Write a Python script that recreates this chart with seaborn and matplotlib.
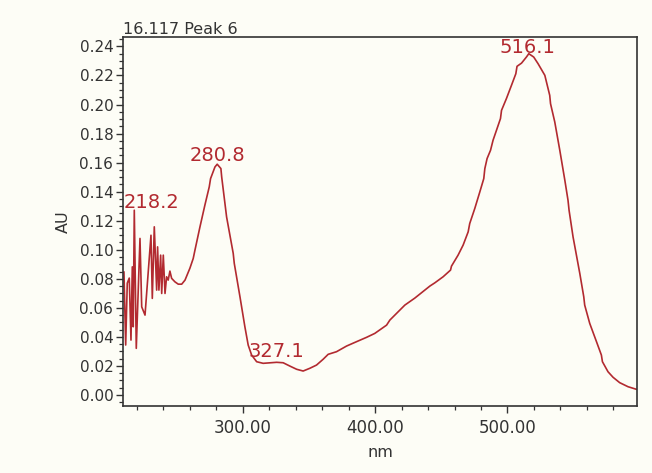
import matplotlib
matplotlib.use("Agg")
import matplotlib.pyplot as plt
import seaborn as sns
import pandas as pd
from matplotlib.ticker import MultipleLocator, FormatStrFormatter

# Absorbance spectrum of peak 6 (retention 16.117 min)
wavelength_nm = [
    210.4, 211.7, 212.9, 214.4, 215.7, 216.7, 217.4, 218.2, 219.7, 222.5,
    223.8, 226.3, 230.8, 231.8, 233.3, 235.1, 235.8, 236.8, 238.1, 238.9,
    240.1, 241.4, 242.6, 243.8, 245.1, 246.4, 248.9, 251.4, 254.0, 256.5,
    260.2, 262.7, 264.0, 267.8, 271.5, 274.8, 275.8, 279.1, 280.8, 283.6,
    284.2, 287.9, 292.9, 293.7, 298.0, 301.7, 304.2, 306.8, 310.6, 315.5,
    325.7, 330.6, 335.7, 340.8, 345.7, 350.8, 355.8, 360.8, 364.6, 370.9,
    378.5, 386.0, 393.6, 399.8, 408.7, 411.2, 422.5, 430.0, 441.4, 445.1,
    451.4, 457.0, 457.7, 462.7, 466.5, 470.3, 471.5, 475.3, 479.1, 482.1,
    482.9, 484.6, 487.2, 489.1, 491.7, 494.7, 495.5, 499.2, 503.0, 506.3,
    507.2, 510.6, 514.3, 516.1, 519.8, 523.1, 528.2, 531.9, 532.5, 535.7,
    539.5, 543.3, 545.7, 546.5, 549.5, 554.6, 557.6, 558.3, 562.1, 567.2,
    570.9, 571.7, 575.9, 579.7, 584.7, 591.0, 597.4,
]
absorbance_au = [
    0.0848, 0.0344, 0.0770, 0.0805, 0.0378, 0.0882, 0.0470, 0.1272, 0.0321, 0.1078,
    0.0607, 0.0550, 0.1100, 0.0665, 0.1158, 0.0722, 0.1020, 0.0722, 0.0963, 0.0699,
    0.0963, 0.0699, 0.0814, 0.0791, 0.0853, 0.0803, 0.0779, 0.0763, 0.0763, 0.0791,
    0.0873, 0.0940, 0.0997, 0.1158, 0.1307, 0.1433, 0.1490, 0.1570, 0.1589, 0.1559,
    0.1501, 0.1226, 0.0975, 0.0906, 0.0676, 0.0470, 0.0344, 0.0275, 0.0229, 0.0218,
    0.0225, 0.0222, 0.0199, 0.0177, 0.0165, 0.0184, 0.0206, 0.0246, 0.0280, 0.0298,
    0.0337, 0.0367, 0.0397, 0.0424, 0.0481, 0.0516, 0.0619, 0.0667, 0.0750, 0.0772,
    0.0814, 0.0860, 0.0887, 0.0963, 0.1032, 0.1123, 0.1181, 0.1284, 0.1398, 0.1490,
    0.1559, 0.1628, 0.1685, 0.1754, 0.1823, 0.1903, 0.1960, 0.2041, 0.2132, 0.2212,
    0.2263, 0.2285, 0.2327, 0.2350, 0.2327, 0.2281, 0.2201, 0.2063, 0.2006, 0.1880,
    0.1685, 0.1479, 0.1341, 0.1272, 0.1089, 0.0837, 0.0676, 0.0619, 0.0493, 0.0367,
    0.0275, 0.0229, 0.0160, 0.0122, 0.0085, 0.0057, 0.0039,
]

# Labelled extrema: text, label x (nm), label baseline (AU), alignment
peak_labels = ["218.2", "280.8", "327.1", "516.1"]
peak_label_x = [210.0, 281.0, 325.5, 515.3]
peak_label_y = [0.1285, 0.1610, 0.0260, 0.2355]
peak_label_ha = ["left", "center", "center", "center"]

x_ticks = [300, 400, 500]
y_ticks = [0.00, 0.02, 0.04, 0.06, 0.08, 0.10, 0.12, 0.14, 0.16, 0.18, 0.20, 0.22, 0.24]

bg = "#FDFDF6"
line_color = "#B22A30"
text_dark = "#333333"

sns.set_theme(style="ticks")
plt.rcParams["font.family"] = ["DejaVu Sans"]

fig = plt.figure(figsize=(6.52, 4.73), dpi=100, facecolor=bg)
ax = fig.add_axes([0.1887, 0.1416, 0.7883, 0.7802], facecolor=bg)

df = pd.DataFrame({"nm": wavelength_nm, "AU": absorbance_au})
sns.lineplot(data=df, x="nm", y="AU", ax=ax, color=line_color, lw=1.2, sort=False)

ax.set_xlim(209.7, 597.8)
ax.set_ylim(-0.0076, 0.2465)

ax.set_xticks(x_ticks)
ax.xaxis.set_major_formatter(FormatStrFormatter("%.2f"))
ax.xaxis.set_minor_locator(MultipleLocator(20))
ax.set_yticks(y_ticks)
ax.yaxis.set_major_formatter(FormatStrFormatter("%.2f"))
ax.yaxis.set_minor_locator(MultipleLocator(0.005))

ax.tick_params(axis="x", which="major", direction="out", length=5, width=1.0,
               color=text_dark, labelsize=12, labelcolor=text_dark, pad=4)
ax.tick_params(axis="y", which="major", direction="out", length=5, width=1.0,
               color=text_dark, labelsize=11, labelcolor=text_dark, pad=2)
ax.tick_params(which="minor", direction="out", length=3, width=0.9, color=text_dark)

for side in ["left", "right", "top", "bottom"]:
    ax.spines[side].set_visible(True)
    ax.spines[side].set_color(text_dark)
    ax.spines[side].set_linewidth(1.2)

ax.set_xlabel("nm", fontsize=11.5, color=text_dark, labelpad=6)
ax.set_ylabel("AU", fontsize=11.5, color=text_dark, labelpad=6)

ax.set_title("16.117 Peak 6", loc="left", fontsize=11.5, color=text_dark, pad=1)

for txt, lx, ly, ha in zip(peak_labels, peak_label_x, peak_label_y, peak_label_ha):
    ax.text(lx, ly, txt, ha=ha, va="baseline", fontsize=14, color=line_color)

fig.savefig("out.png", dpi=100, facecolor=bg)
